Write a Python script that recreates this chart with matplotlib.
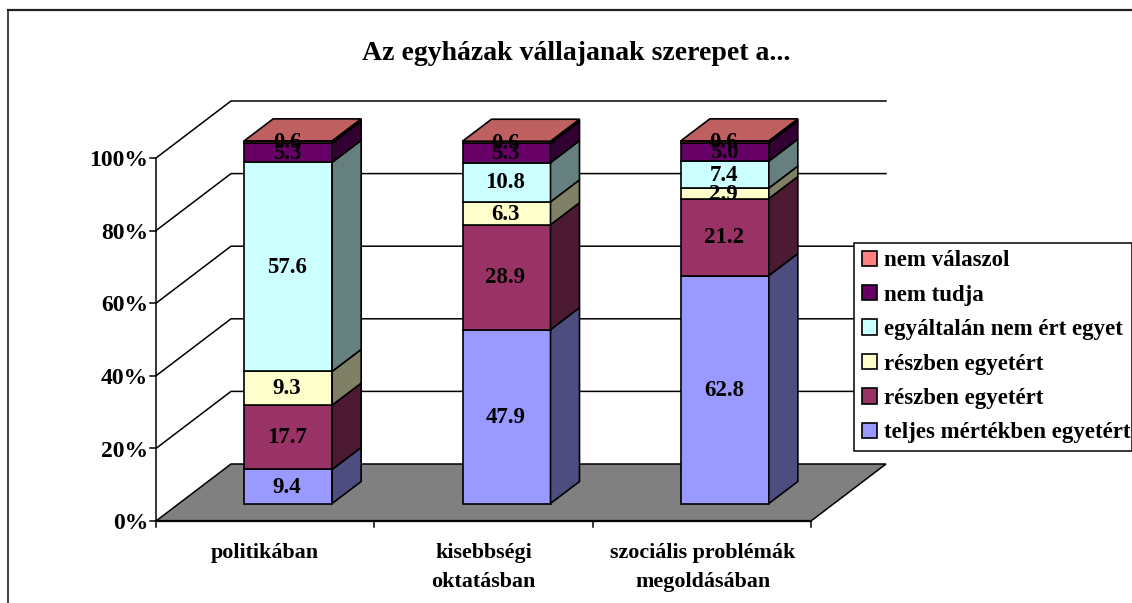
import matplotlib
matplotlib.use("Agg")
import matplotlib.pyplot as plt
from matplotlib.patches import Polygon, Patch
from matplotlib.colors import to_rgb

W, H = 1132, 603
categories = ["politikában", "kisebbségi\noktatásban", "szociális problémák\nmegoldásában"]
teljes = [9.4, 47.9, 62.8]
reszben1 = [17.7, 28.9, 21.2]
reszben2 = [9.3, 6.3, 2.9]
egyaltalan = [57.6, 10.8, 7.4]
nem_tudja = [5.3, 5.3, 5.0]
nem_valaszol = [0.6, 0.6, 0.6]
series = [teljes, reszben1, reszben2, egyaltalan, nem_tudja, nem_valaszol]
series_names = ["teljes mértékben egyetért", "részben egyetért", "részben egyetért",
                "egyáltalán nem ért egyet", "nem tudja", "nem válaszol"]
colors = ["#9999FF", "#993366", "#FFFFCC", "#CCFFFF", "#660066", "#FF8080"]
yticks = [0, 20, 40, 60, 80, 100]
title = "Az egyházak vállajanak szerepet a..."

plt.rcParams["font.family"] = ["Liberation Serif", "DejaVu Serif"]
plt.rcParams["font.weight"] = "bold"

fig = plt.figure(figsize=(W / 100, H / 100), dpi=100)
fig.patch.set_facecolor("white")

# plot box in pixels: x 156..811, y 521 (0%)..158 (100%)
L, R, B, T = 156, 811, 521, 158
ax = fig.add_axes([L / W, 1 - B / H, (R - L) / W, (B - T) / H])
ax.set_xlim(0, 3)
ax.set_ylim(0, 100)
ax.axis("off")

px = 3 / (R - L)      # data units per pixel, x
py = 100 / (B - T)    # data units per pixel, y
DX, DY = 75 * px, 57 * py        # wall depth
dx, dy = 29 * px, 22 * py        # bar depth
bw = 88 * px


def poly(pts, fc, ec="black", lw=1.2, z=2):
    ax.add_patch(Polygon(pts, closed=True, facecolor=fc, edgecolor=ec, linewidth=lw,
                         joinstyle="miter", clip_on=False, zorder=z))


def shade(c, f):
    return tuple(v * f for v in to_rgb(c))


# floor
poly([(0, 0), (DX, DY), (3 + DX, DY), (3, 0)], "#808080", lw=1.1, z=1)
# walls' gridlines
for t in yticks[1:]:
    ax.plot([0, DX, 3 + DX], [t, t + DY, t + DY], color="black", lw=1.1,
            clip_on=False, zorder=1, solid_joinstyle="miter")
# axes lines and ticks
ax.plot([0, 0], [0, 100], color="black", lw=1.1, clip_on=False, zorder=3)
ax.plot([0, 3], [0, 0], color="black", lw=1.6, clip_on=False, zorder=3)
for t in yticks:
    ax.plot([-6 * px, 0], [t, t], color="black", lw=1.1, clip_on=False, zorder=3)
    ax.text(-8 * px, t - 0.75, f"{t}%", ha="right", va="center", fontsize=17, clip_on=False)
for i in range(4):
    ax.plot([i, i], [0, -6 * py], color="black", lw=1.1, clip_on=False, zorder=3)

# bars
for i in range(len(categories)):
    x0 = i + 0.5 + (DX - dx) / 2 - bw / 2
    x1 = x0 + bw
    base = (DY - dy) / 2
    bottom = base
    for vals, c in zip(series, colors):
        v = vals[i]
        top = bottom + v
        poly([(x0, bottom), (x1, bottom), (x1, top), (x0, top)], c, z=4)
        poly([(x1, bottom), (x1 + dx, bottom + dy), (x1 + dx, top + dy), (x1, top)],
             shade(c, 0.5), z=4)
        ax.text((x0 + x1) / 2 - 1 * px, bottom + v / 2 - 0.2, f"{v}", ha="center", va="center",
                fontsize=16.5, zorder=6, clip_on=False)
        bottom = top
    poly([(x0, bottom), (x1, bottom), (x1 + dx, bottom + dy), (x0 + dx, bottom + dy)],
         shade(colors[-1], 0.75), z=5)
    ax.text(i + 0.5 + 0.005 * (i == 2), -6.0, categories[i], ha="center", va="top",
            fontsize=15.8, linespacing=1.6, clip_on=False)

# outer frame
fig.add_artist(plt.Line2D([8 / W, 8 / W], [0, 1 - 10 / H], color="#222222", lw=1.2))
fig.add_artist(plt.Line2D([8 / W, 1], [1 - 10 / H, 1 - 10 / H], color="#222222", lw=1.6))

fig.text(576 / W, 1 - 53 / H, title, ha="center", va="center", fontsize=20)

handles = [Patch(facecolor=c, edgecolor="black", linewidth=1.2) for c in colors[::-1]]
leg = fig.legend(handles, series_names[::-1], loc="lower left",
                 bbox_to_anchor=(854 / W, 1 - 451 / H, 278 / W, 209 / H),
                 mode="expand", ncol=1, fontsize=16.5, frameon=True, fancybox=False,
                 edgecolor="black", framealpha=1, borderaxespad=0, borderpad=0.33,
                 labelspacing=0.585, handlelength=0.66, handleheight=0.66, handletextpad=0.3)
leg.get_frame().set_linewidth(1.1)
leg.set_zorder(10)

fig.savefig("out.png", dpi=100)
